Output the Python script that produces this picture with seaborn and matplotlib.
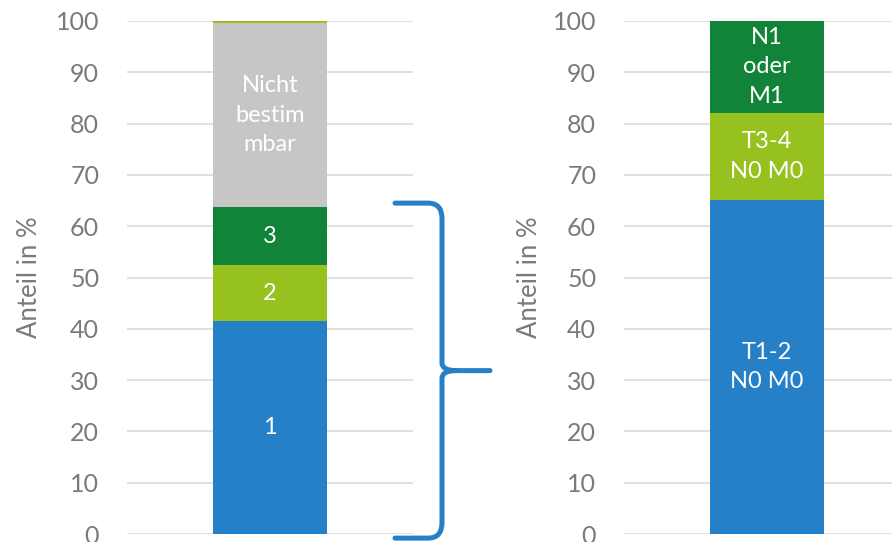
import matplotlib
matplotlib.use("Agg")
import matplotlib.pyplot as plt
import seaborn as sns
import pandas as pd
from matplotlib.path import Path
from matplotlib.patches import PathPatch
from matplotlib.transforms import blended_transform_factory

# Linke Säule: Grading
left_labels = ["1", "2", "3", "Nicht\nbestim\nmbar", ""]
left_values = [41.5, 10.9, 11.3, 35.9, 0.4]
left_colors = ["#2680C8", "#96C11F", "#12843A", "#C6C6C6", "#96C11F"]

# Rechte Säule: Stadium
right_labels = ["T1-2\nN0 M0", "T3-4\nN0 M0", "N1\noder\nM1"]
right_values = [65.1, 17.0, 17.9]
right_colors = ["#2680C8", "#96C11F", "#12843A"]

y_ticks = [0, 10, 20, 30, 40, 50, 60, 70, 80, 90, 100]
y_label = "Anteil in %"

sns.set_theme(style="white")
plt.rcParams["font.family"] = ["Lato", "DejaVu Sans"]

W, H = 892, 542
fig = plt.figure(figsize=(W / 100, H / 100), dpi=100)
ax1 = fig.add_axes([127 / W, 8 / H, 286 / W, 513 / H])
ax2 = fig.add_axes([624 / W, 8 / H, 286 / W, 513 / H])

tick_color = "#7A7A7A"


def stacked(ax, labels, values, colors):
    bottom = 0.0
    for lab, val, col in zip(labels, values, colors):
        df = pd.DataFrame({"kat": ["a"], "wert": [val]})
        sns.barplot(data=df, x="kat", y="wert", bottom=bottom, color=col,
                    width=0.4, saturation=1, linewidth=0, ax=ax, zorder=3)
        if lab:
            ax.text(0, bottom + val / 2, lab, ha="center", va="center",
                    color="white", fontsize=17, linespacing=1.5, zorder=4)
        bottom += val
    ax.set_xlim(-0.5, 0.5)
    ax.set_ylim(0, 100)
    ax.set_yticks(y_ticks)
    ax.set_xticks([])
    ax.set_xlabel("")
    ax.set_ylabel(y_label, fontsize=18.5, color=tick_color)
    ax.tick_params(axis="y", length=0, pad=20, labelsize=18, labelcolor=tick_color)
    ax.yaxis.grid(True, color="#DDDDDD", linewidth=1.3, zorder=0)
    ax.set_axisbelow(True)
    for s in ax.spines.values():
        s.set_visible(False)
    ax.patch.set_alpha(0)


stacked(ax1, left_labels, left_values, left_colors)
stacked(ax2, right_labels, right_values, right_colors)
ax1.yaxis.set_label_coords(-0.297, 0.5)
ax2.yaxis.set_label_coords(-0.287, 0.5)

# Geschweifte Klammer über die bestimmbaren Grade 1-3
total = sum(left_values[:3])
top, bot, mid = total + 0.8, -0.8, total / 2
fx = lambda px: px / W
xs, xv, xk, xt = fx(395), fx(442), fx(456), fx(490)
r = 3.0
verts = [
    (xs, top), (fx(428), top), (xv, top), (xv, top - r),
    (xv, mid + 1.5), (xv, mid), (xk, mid), (xt, mid),
    (xk, mid), (xv, mid), (xv, mid - 1.5),
    (xv, bot + r), (xv, bot), (fx(428), bot), (xs, bot),
]
codes = [
    Path.MOVETO, Path.LINETO, Path.CURVE3, Path.CURVE3,
    Path.LINETO, Path.CURVE3, Path.CURVE3, Path.LINETO,
    Path.MOVETO, Path.CURVE3, Path.CURVE3,
    Path.LINETO, Path.CURVE3, Path.CURVE3, Path.LINETO,
]
trans = blended_transform_factory(fig.transFigure, ax1.transData)
brace = PathPatch(Path(verts, codes), transform=trans, fill=False,
                  edgecolor="#2680C8", linewidth=3.6, capstyle="round",
                  joinstyle="round", clip_on=False)
fig.add_artist(brace)

fig.savefig("out.png", dpi=100)
